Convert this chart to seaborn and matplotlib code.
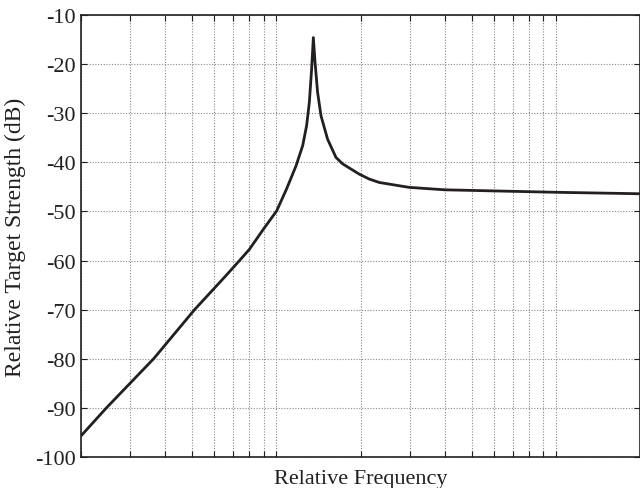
import matplotlib
matplotlib.use("Agg")
import matplotlib.pyplot as plt
import matplotlib.ticker as mticker
import seaborn as sns
import pandas as pd

freq = [2.0, 2.465, 3.637, 5.096, 6.52, 7.38, 8.01, 8.99, 10.02, 10.88, 11.76,
        12.42, 12.83, 13.12, 13.37, 13.56, 13.75, 14.04, 14.44, 15.25, 16.34,
        17.25, 19.79, 21.48, 23.33, 29.85, 40.13, 100.0, 200.0]
ts_db = [-95.7, -90.0, -80.0, -70.0, -63.4, -60.0, -57.7, -53.6, -49.9, -45.4, -40.7,
         -36.6, -32.5, -27.8, -21.0, -14.6, -19.6, -25.7, -30.5, -35.3, -39.0,
         -40.3, -42.4, -43.4, -44.1, -45.1, -45.6, -46.1, -46.4]
y_ticks = [-100, -90, -80, -70, -60, -50, -40, -30, -20, -10]

df = pd.DataFrame({"freq": freq, "ts": ts_db})

sns.set_theme(style="white")
plt.rcParams["font.family"] = ["Liberation Serif", "DejaVu Serif"]

fig = plt.figure(figsize=(6.4, 4.89), dpi=100)
ax = fig.add_axes([0.1266, 0.0634, 0.8734, 0.9039])

sns.lineplot(data=df, x="freq", y="ts", ax=ax, color="#231f20", linewidth=2.0, sort=False)

ax.set_xscale("log")
ax.set_xlim(2, 200)
ax.set_ylim(-100, -10)
ax.set_yticks(y_ticks)
ax.set_yticklabels([str(v) for v in y_ticks])
ax.xaxis.set_major_locator(mticker.LogLocator(base=10, numticks=10))
ax.xaxis.set_minor_locator(mticker.LogLocator(base=10, subs=range(2, 10), numticks=20))
ax.xaxis.set_major_formatter(mticker.NullFormatter())
ax.xaxis.set_minor_formatter(mticker.NullFormatter())

ax.grid(True, which="both", axis="x", linestyle=(0, (1, 1.5)), color="#888888", linewidth=0.8)
ax.grid(True, which="major", axis="y", linestyle=(0, (1, 1.5)), color="#888888", linewidth=0.8)

ax.tick_params(axis="both", which="both", direction="in", top=True, right=True,
               bottom=True, left=True, color="#231f20", width=0.8)
ax.tick_params(axis="both", which="major", length=4, labelsize=16, labelcolor="#231f20", pad=4)
ax.tick_params(axis="x", which="minor", length=4)

for s in ax.spines.values():
    s.set_color("#231f20")
    s.set_linewidth(1.2)

ax.set_xlabel("Relative Frequency", fontsize=16, color="#231f20", labelpad=5)
ax.set_ylabel("Relative Target Strength (dB)", fontsize=17, color="#231f20", labelpad=6)

fig.savefig("out.png", dpi=100)
